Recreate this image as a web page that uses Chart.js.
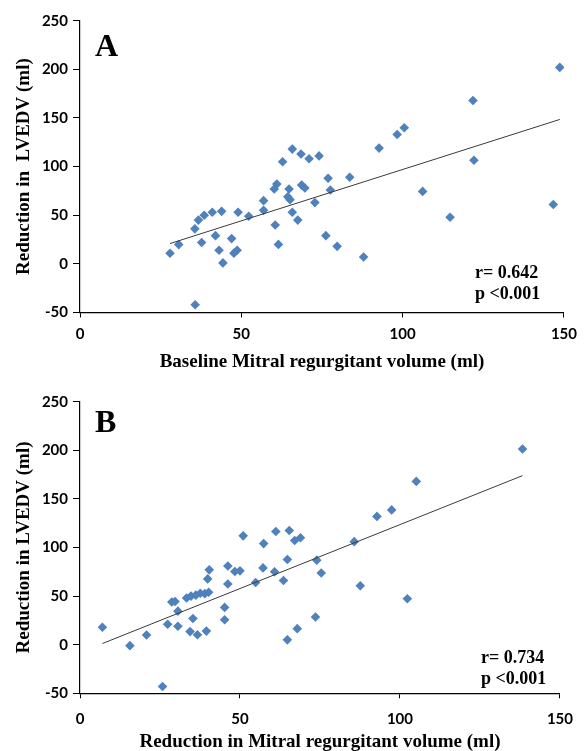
<!DOCTYPE html>
<html>
<head>
<meta charset="utf-8">
<script src="https://cdn.jsdelivr.net/npm/chart.js@4"></script>
<style>
  html, body { margin: 0; padding: 0; background: #fff; overflow: hidden; }
  #wrapA { position: absolute; left: 0; top: 0; width: 585px; height: 375px; }
  #wrapB { position: absolute; left: 0; top: 376px; width: 585px; height: 380px; }
</style>
</head>
<body>
<div id="wrapA"><canvas id="chartA" width="585" height="375"></canvas></div>
<div id="wrapB"><canvas id="chartB" width="585" height="380"></canvas></div>
<script>
// panel A: baseline mitral regurgitant volume vs reduction in LVEDV
const baselineMRV = [27.9, 30.6, 35.6, 35.7, 36.7, 37.7, 38.5, 41.0, 42.0, 43.1, 43.9, 44.3, 47.0, 47.7, 48.7, 49.0,
  52.3, 56.9, 56.9, 60.2, 60.5, 61.0, 61.5, 62.8, 64.4, 64.8, 65.1, 65.8, 65.8, 67.5, 68.5, 68.7, 69.7, 71.0,
  72.8, 74.1, 76.2, 76.9, 77.6, 79.7, 83.6, 87.9, 92.7, 98.3, 100.5, 106.2, 114.7, 121.8, 122.1, 146.7, 148.7];
const lvedvDropA = [10.9, 19.8, 36, -42, 45, 22, 50, 53, 29, 14, 54, 1, 26, 11, 14, 53,
  49, 65, 55, 77, 40, 82, 20, 105, 69, 77, 66, 118, 53, 45, 113, 81, 78, 108,
  63, 111, 29, 88, 76, 18, 89, 7, 119, 133, 140, 74.5, 48, 168, 106.5, 61, 202];

// panel B: reduction in mitral regurgitant volume vs reduction in LVEDV
const mrvDrop = [7.0, 15.6, 20.8, 25.8, 27.4, 28.7, 29.7, 30.6, 30.6, 33.3, 34.4, 34.7, 35.3, 36.2, 36.7, 37.6,
  39.0, 39.5, 39.9, 40.2, 40.4, 45.2, 45.2, 46.2, 46.2, 48.4, 50.0, 51.0, 54.9, 57.2, 57.4, 60.8, 61.2,
  63.6, 64.8, 64.8, 65.4, 67.1, 67.9, 68.9, 73.6, 74.0, 75.4, 85.7, 87.6, 92.8, 97.4, 102.3, 105.1, 138.3];
const lvedvDropB = [18, -1, 10, -43, 21, 44, 44.5, 34.5, 19, 48, 13.5, 50, 27, 51, 10.3, 53,
  52.5, 14, 67.7, 54, 77, 38.4, 25.7, 62.5, 81, 75.3, 76, 112, 64, 79, 104, 75, 116.5,
  66, 87.7, 5, 117.5, 107.2, 16.5, 110, 28.5, 87, 73.7, 106, 60.6, 132, 138.7, 47.3, 168, 201.4];

const xTicks = [0, 50, 100, 150];
const yTicks = [-50, 0, 50, 100, 150, 200, 250];

function trendLine(xs, ys) {
  const n = xs.length;
  const mx = xs.reduce((a, b) => a + b, 0) / n;
  const my = ys.reduce((a, b) => a + b, 0) / n;
  let sxy = 0, sxx = 0;
  xs.forEach((x, i) => { sxy += (x - mx) * (ys[i] - my); sxx += (x - mx) * (x - mx); });
  const slope = sxy / sxx;
  const icpt = my - slope * mx;
  const lo = Math.min(...xs), hi = Math.max(...xs);
  return [{ x: lo, y: icpt + slope * lo }, { x: hi, y: icpt + slope * hi }];
}

const labelPlugin = {
  id: "panelLabels",
  afterDraw(chart, args, opts) {
    const ctx = chart.ctx;
    ctx.save();
    ctx.fillStyle = "#000";
    ctx.textBaseline = "alphabetic";
    ctx.textAlign = "left";
    ctx.font = "bold 32px 'Liberation Serif'";
    ctx.fillText(opts.letter, 95, 56);
    ctx.font = "bold 18px 'Liberation Serif'";
    ctx.fillText(opts.r, opts.rx, opts.ry);
    ctx.fillText("p <0.001", opts.rx, opts.ry + 21);
    ctx.restore();
  }
};

function makeChart(id, xs, ys, xTitle, yTitle, layout, letter, rText, rx, ry) {
  const pts = xs.map((x, i) => ({ x: x, y: ys[i] }));
  return new Chart(document.getElementById(id), {
    type: "scatter",
    data: {
      datasets: [
        {
          type: "line",
          data: trendLine(xs, ys),
          borderColor: "#3a3a3a",
          borderWidth: 1,
          pointRadius: 0,
          fill: false
        },
        {
          data: pts,
          pointStyle: "rectRot",
          pointRadius: 4.8,
          backgroundColor: "#4F81BD",
          borderColor: "#4F81BD",
          borderWidth: 0
        }
      ]
    },
    options: {
      responsive: false,
      animation: false,
      events: [],
      layout: { padding: { top: layout.top, right: 15, left: 0, bottom: 0 } },
      plugins: {
        legend: { display: false },
        tooltip: { enabled: false },
        panelLabels: { letter: letter, r: rText, rx: rx, ry: ry }
      },
      scales: {
        x: {
          type: "linear",
          min: 0,
          max: 150,
          afterBuildTicks: (s) => { s.ticks = xTicks.map(v => ({ value: v })); },
          afterFit: (s) => { s.height = layout.xh; },
          grid: { drawOnChartArea: false, drawTicks: true, tickLength: 5, color: "#000" },
          border: { color: "#000", width: 1.2 },
          ticks: { color: "#000", padding: layout.xpad, font: { family: "Lato", weight: "bold", size: 15 } },
          title: {
            display: true,
            text: xTitle,
            color: "#000",
            padding: { top: 0, bottom: layout.tpad },
            font: { family: "Liberation Serif", weight: "bold", size: 19 }
          }
        },
        y: {
          type: "linear",
          min: -50,
          max: 250,
          afterBuildTicks: (s) => { s.ticks = yTicks.map(v => ({ value: v })); },
          afterFit: (s) => { s.width = 80; },
          grid: { drawOnChartArea: false, drawTicks: true, tickLength: 7, color: "#000" },
          border: { color: "#000", width: 1.2 },
          ticks: { color: "#000", padding: 5, font: { family: "Lato", weight: "bold", size: 15 } },
          title: {
            display: true,
            text: yTitle,
            color: "#000",
            padding: { top: 13, bottom: 0 },
            font: { family: "Liberation Serif", weight: "bold", size: 19 }
          }
        }
      }
    },
    plugins: [labelPlugin]
  });
}

makeChart("chartA", baselineMRV, lvedvDropA,
  "Baseline Mitral regurgitant volume (ml)", "Reduction in  LVEDV (ml)",
  { top: 20.7, xh: 62.5, xpad: 8, tpad: 2 }, "A", "r= 0.642", 475, 278);

makeChart("chartB", mrvDrop, lvedvDropB,
  "Reduction in Mitral regurgitant volume (ml)", "Reduction in LVEDV (ml)",
  { top: 25.7, xh: 62.7, xpad: 12, tpad: 3 }, "B", "r= 0.734", 481, 287);
</script>
</body>
</html>
